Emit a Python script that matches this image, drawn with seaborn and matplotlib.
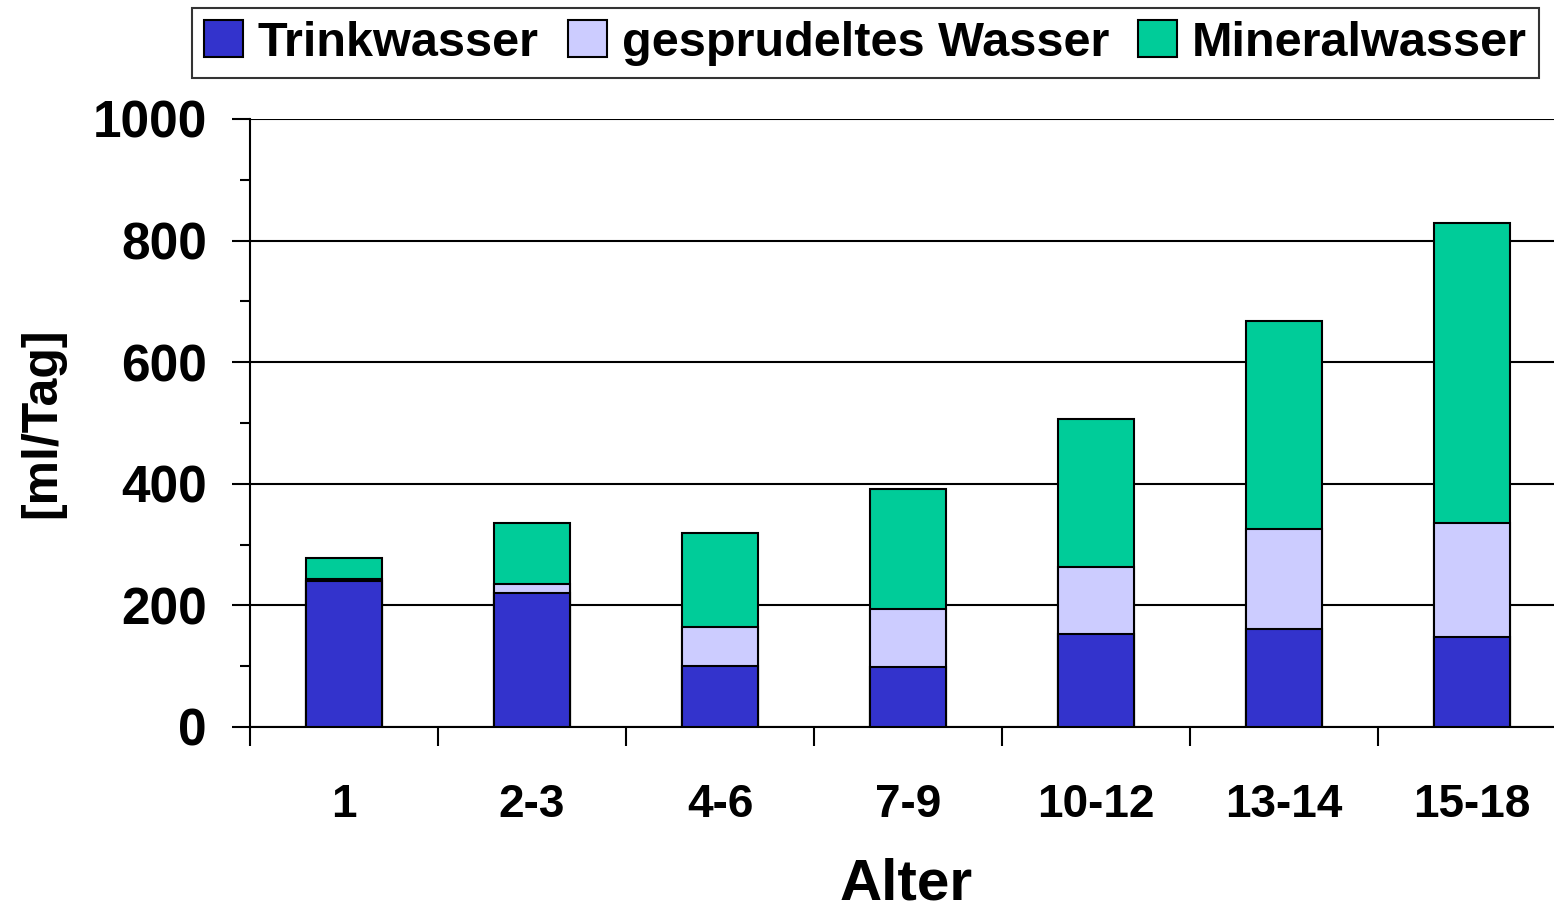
import matplotlib
matplotlib.use("Agg")
import matplotlib.pyplot as plt
import seaborn as sns
import pandas as pd
import numpy as np
from matplotlib.patches import Patch
from matplotlib.ticker import MultipleLocator, FixedLocator

categories = ["1", "2-3", "4-6", "7-9", "10-12", "13-14", "15-18"]
trinkwasser = [240, 221, 101, 99, 153, 161, 148]
gesprudelt = [4, 15, 63, 95, 110, 165, 187]
mineralwasser = [34, 99, 155, 197, 244, 342, 494]

series_names = ["Trinkwasser", "gesprudeltes Wasser", "Mineralwasser"]
colors = ["#3333CC", "#CCCCFF", "#00CC99"]

sns.set_theme(style="white")
plt.rcParams["font.family"] = ["Liberation Sans", "DejaVu Sans"]
plt.rcParams["font.weight"] = "bold"
for k in ["text.color", "axes.labelcolor", "xtick.color", "ytick.color", "axes.edgecolor"]:
    plt.rcParams[k] = "black"

fig = plt.figure(figsize=(15.54, 9.09), dpi=100)
ax = fig.add_axes([250/1554, 1-727/909, 1316/1554, (727-119)/909])

t = np.array(trinkwasser)
g = np.array(gesprudelt)
m = np.array(mineralwasser)
layers = [(t + g + m, colors[2]), (t + g, colors[1]), (t, colors[0])]
for vals, col in layers:
    df = pd.DataFrame({"Alter": categories, "v": vals})
    sns.barplot(data=df, x="Alter", y="v", color=col, width=0.4,
                edgecolor="black", linewidth=1.5, saturation=1, ax=ax, zorder=3)

ax.set_ylim(0, 1000)
ax.set_xlim(-0.5, 6.5)
ax.yaxis.set_major_locator(MultipleLocator(200))
ax.yaxis.set_minor_locator(MultipleLocator(100))
ax.yaxis.grid(True, which="major", color="black", linewidth=1.5, zorder=0)
ax.set_axisbelow(True)

ax.xaxis.set_major_locator(FixedLocator(np.arange(-0.5, 6, 1)))
ax.set_xticklabels([])
ax.xaxis.set_minor_locator(FixedLocator(np.arange(0, 7)))
ax.set_xticklabels(categories, minor=True)
ax.tick_params(axis="x", which="major", direction="out", length=14, width=1.5, color="black", bottom=True)
ax.tick_params(axis="x", which="minor", length=0, labelsize=33, pad=40, labelcolor="black")
ax.tick_params(axis="y", which="both", direction="out", left=True, width=1.5, color="black")
ax.tick_params(axis="y", which="major", length=13, labelsize=37, pad=18, labelcolor="black")
ax.tick_params(axis="y", which="minor", length=7)
for lbl in ax.get_xticklabels(minor=True) + ax.get_yticklabels():
    lbl.set_fontweight("bold")

for s in ["top", "right"]:
    ax.spines[s].set_visible(False)
for s in ["left", "bottom"]:
    ax.spines[s].set_color("black")
    ax.spines[s].set_linewidth(1.5)

ax.set_xlabel("")
ax.set_ylabel("")
fig.text(42/1554, 1-423/909, "[ml/Tag]", rotation=90, fontsize=36, fontweight="bold",
         ha="center", va="center", color="black")
fig.text(906/1554, 1-885/909, "Alter", fontsize=42, fontweight="bold", ha="center", va="center",
         color="black")

handles = [Patch(facecolor=c, edgecolor="black", linewidth=1.5) for c in colors]
leg = fig.legend(handles, series_names, loc="upper center", bbox_to_anchor=(865.5/1554, 1-8/909),
                 ncol=3, frameon=True, fancybox=False, prop={"size": 35, "weight": "bold"},
                 handlelength=0.8, handleheight=0.8, handletextpad=0.3, columnspacing=0.6,
                 borderpad=0.25, borderaxespad=0, labelcolor="black")
leg.get_frame().set_edgecolor("black")
leg.get_frame().set_linewidth(1.5)

fig.savefig("out.png", dpi=100)
